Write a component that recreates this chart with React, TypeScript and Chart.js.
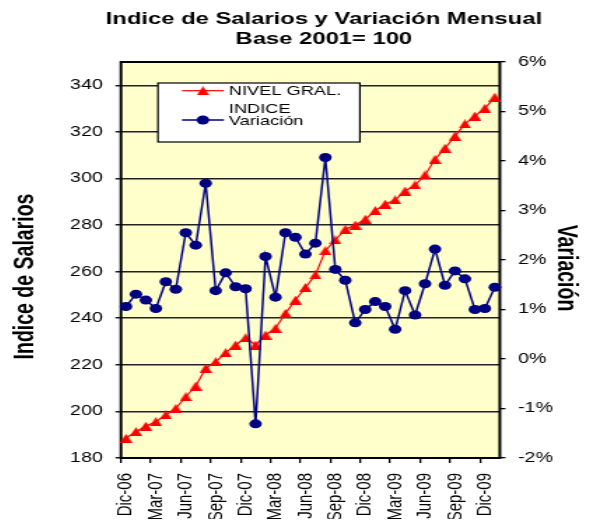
import React, { useEffect, useRef } from 'react';
import { Chart, registerables } from 'chart.js';

Chart.register(...registerables);

// ---------- data ----------
const categories = [
  'Dic-06',
  'Ene-07', 'Feb-07', 'Mar-07', 'Abr-07', 'May-07', 'Jun-07', 'Jul-07', 'Ago-07', 'Sep-07', 'Oct-07', 'Nov-07', 'Dic-07',
  'Ene-08', 'Feb-08', 'Mar-08', 'Abr-08', 'May-08', 'Jun-08', 'Jul-08', 'Ago-08', 'Sep-08', 'Oct-08', 'Nov-08', 'Dic-08',
  'Ene-09', 'Feb-09', 'Mar-09', 'Abr-09', 'May-09', 'Jun-09', 'Jul-09', 'Ago-09', 'Sep-09', 'Oct-09', 'Nov-09', 'Dic-09',
  'Ene-10',
];

const indiceValues = [
  188.5, 191.3, 193.7, 195.6, 198.5, 201.3, 206.3, 210.9, 218.5, 221.3, 225.2, 228.5, 231.6,
  228.5, 232.8, 235.7, 242.1, 247.8, 253.2, 258.6, 269.0, 273.6, 278.2, 280.0, 282.5,
  286.2, 289.0, 290.8, 294.6, 297.2, 301.5, 308.2, 313.0, 318.2, 323.4, 326.8, 330.1, 334.9,
];

const variacionValues = [
  1.06, 1.31, 1.19, 1.02, 1.56, 1.41, 2.55, 2.30, 3.55, 1.38, 1.74, 1.46, 1.42,
  -1.31, 2.07, 1.25, 2.55, 2.46, 2.12, 2.34, 4.07, 1.81, 1.59, 0.73, 1.00,
  1.16, 1.06, 0.60, 1.38, 0.89, 1.52, 2.22, 1.49, 1.78, 1.62, 1.00, 1.02, 1.45,
];

const labelEvery = 3;
const titleLines = ['Indice de Salarios y Variación Mensual', 'Base 2001= 100'];
const leftAxisTitle = 'Indice de Salarios';
const rightAxisTitle = 'Variación';
const legendIndice = ['NIVEL GRAL.', 'INDICE'];
const legendVariacion = 'Variación';

// ---------- layout (the reference is horizontally stretched) ----------
const S = 1.4;
const PAGE_W = 578;
const PAGE_H = 511;
const W = Math.round(PAGE_W / S);
const px = (pageX: number) => (pageX - 8) / S;
const py = (pageY: number) => pageY - 8;

const FONT = "'Liberation Sans', Arial, Helvetica, sans-serif";
const RED = '#FF0000';
const NAVY = '#000080';

function makeTriangle(w: number, h: number, color: string) {
  const c = document.createElement('canvas');
  c.width = w;
  c.height = h;
  const g = c.getContext('2d')!;
  g.fillStyle = color;
  g.beginPath();
  g.moveTo(w / 2, 0);
  g.lineTo(w, h);
  g.lineTo(0, h);
  g.closePath();
  g.fill();
  return c;
}

export default function App() {
  const ref = useRef<HTMLCanvasElement>(null);

  useEffect(() => {
    const canvas = ref.current;
    if (!canvas) return;
    const tri = makeTriangle(9, 9, RED);

    const decor = {
      id: 'decor',
      beforeDraw(chart: any) {
        const { ctx, chartArea: a } = chart;
        ctx.save();
        ctx.fillStyle = '#FFFFCC';
        ctx.fillRect(a.left, a.top, a.right - a.left, a.bottom - a.top);
        ctx.restore();
      },
      beforeDatasetsDraw(chart: any) {
        const { ctx, chartArea: a } = chart;
        ctx.save();
        ctx.strokeStyle = '#000';
        ctx.lineWidth = 2;
        ctx.strokeRect(a.left, a.top, a.right - a.left, a.bottom - a.top);
        ctx.restore();
      },
      afterDraw(chart: any) {
        const { ctx } = chart;
        ctx.save();
        // main title
        ctx.fillStyle = '#000';
        ctx.textAlign = 'center';
        ctx.textBaseline = 'alphabetic';
        ctx.font = `bold 17px ${FONT}`;
        ctx.fillText(titleLines[0], px(324), py(24));
        ctx.fillText(titleLines[1], px(324), py(44));

        // axis titles
        ctx.font = `bold 19.5px ${FONT}`;
        ctx.save();
        ctx.translate(px(33), py(276.5));
        ctx.rotate(-Math.PI / 2);
        ctx.fillText(leftAxisTitle, 0, 0);
        ctx.restore();
        ctx.save();
        ctx.translate(px(558), py(268));
        ctx.rotate(Math.PI / 2);
        ctx.fillText(rightAxisTitle, 0, 0);
        ctx.restore();

        // legend box
        const bx = px(158), by = py(83), bw = px(360) - px(158), bh = 59;
        ctx.fillStyle = '#fff';
        ctx.fillRect(bx, by, bw, bh);
        ctx.strokeStyle = '#000';
        ctx.lineWidth = 1.2;
        ctx.strokeRect(bx, by, bw, bh);

        const x0 = px(182), x1 = px(224), xc = (x0 + x1) / 2;
        const yRed = py(90.7), yBlue = py(120);
        ctx.strokeStyle = RED;
        ctx.lineWidth = 1.2;
        ctx.beginPath();
        ctx.moveTo(x0, yRed);
        ctx.lineTo(x1, yRed);
        ctx.stroke();
        ctx.drawImage(tri, xc - tri.width / 2, yRed - tri.height / 2);

        ctx.strokeStyle = NAVY;
        ctx.lineWidth = 1.5;
        ctx.beginPath();
        ctx.moveTo(x0, yBlue);
        ctx.lineTo(x1, yBlue);
        ctx.stroke();
        ctx.fillStyle = NAVY;
        ctx.beginPath();
        ctx.arc(xc, yBlue, 4.5, 0, Math.PI * 2);
        ctx.fill();

        ctx.fillStyle = '#000';
        ctx.textAlign = 'left';
        ctx.font = `13px ${FONT}`;
        ctx.fillText(legendIndice[0], px(229), py(95));
        ctx.fillText(legendIndice[1], px(229), py(112.7));
        ctx.fillText(legendVariacion, px(229), py(125));
        ctx.restore();
      },
    };

    const tickFont = { family: FONT, size: 14 };

    const chart = new Chart(canvas, {
      type: 'line',
      data: {
        labels: categories,
        datasets: [
          {
            label: legendVariacion,
            data: variacionValues,
            yAxisID: 'y1',
            borderColor: NAVY,
            backgroundColor: NAVY,
            borderWidth: 1.5,
            pointStyle: 'circle',
            pointRadius: 4.5,
            pointBorderWidth: 0,
            pointBackgroundColor: NAVY,
            tension: 0,
          },
          {
            label: legendIndice.join(' '),
            data: indiceValues,
            yAxisID: 'y',
            borderColor: RED,
            backgroundColor: RED,
            borderWidth: 1.2,
            pointStyle: tri as any,
            pointRadius: 5,
            tension: 0,
          },
        ],
      },
      options: {
        responsive: false,
        animation: false,
        devicePixelRatio: 1,
        layout: { padding: { top: py(62), left: 0, right: 0, bottom: 0 } },
        plugins: {
          legend: { display: false },
          title: { display: false },
          tooltip: { enabled: false },
        },
        scales: {
          x: {
            type: 'category',
            offset: true,
            border: { display: false },
            grid: {
              offset: true,
              drawOnChartArea: false,
              drawTicks: true,
              tickLength: 5,
              lineWidth: 1.3,
              color: '#000',
              tickColor: (c: any) => (typeof c.index === 'number' && c.index % labelEvery === 0 ? '#000' : 'rgba(0,0,0,0)'),
            },
            ticks: {
              autoSkip: false,
              maxRotation: 90,
              minRotation: 90,
              padding: 10,
              color: '#000',
              font: { family: FONT, size: 15 },
              callback: (_v: any, i: number) => (i % labelEvery === 0 ? categories[i] : ''),
            },
            afterFit: (s: any) => {
              s.height = PAGE_H - py(458);
            },
          },
          y: {
            type: 'linear',
            position: 'left',
            min: 180,
            max: 350,
            border: { display: false },
            grid: { color: '#222', lineWidth: 1.5, tickLength: 4, drawTicks: true },
            ticks: { stepSize: 20, includeBounds: false, padding: 9, color: '#000', font: tickFont },
            afterFit: (s: any) => {
              s.width = px(121);
            },
          },
          y1: {
            type: 'linear',
            position: 'right',
            min: -2,
            max: 6,
            border: { display: false },
            grid: { drawOnChartArea: false, color: '#000', lineWidth: 1.3, tickLength: 4, drawTicks: true },
            ticks: {
              stepSize: 1,
              padding: 9,
              color: '#000',
              font: tickFont,
              callback: (v: any) => `${v}%`,
            },
            afterFit: (s: any) => {
              s.width = W - px(500);
            },
          },
        },
      },
      plugins: [decor],
    } as any);

    return () => chart.destroy();
  }, []);

  return (
    <div style={{ width: PAGE_W, height: PAGE_H }}>
      <canvas
        ref={ref}
        width={W}
        height={PAGE_H}
        style={{ width: `${PAGE_W}px`, height: `${PAGE_H}px`, display: 'block' }}
      />
    </div>
  );
}
